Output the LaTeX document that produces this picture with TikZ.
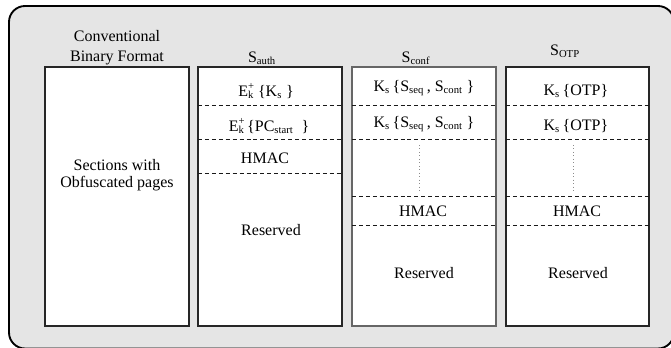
\documentclass[tikz,border=0pt]{standalone}
\usepackage{fontspec}
\setmainfont{Liberation Serif}
\usepackage{xcolor}
\usetikzlibrary{positioning, calc}

\tikzset{
  sect/.style={draw=black!85, line width=0.8pt, fill=white},
  sep/.style={black!90, line width=0.6pt, dash pattern=on 3pt off 2.2pt},
  gap/.style={black!45, line width=0.6pt, dotted},
  lbl/.style={anchor=base, inner sep=0pt},
}
\newcommand{\Ek}{E\rlap{\raisebox{0.15ex}{\textsuperscript{+}}}\textsubscript{k}}
\newcommand{\Ks}{K\textsubscript{s}}

\begin{document}
\begin{tikzpicture}[x=0.75pt, y=-0.75pt, font=\fontsize{12}{15}\selectfont]
            \newcommand{\Top}{67}
            \newcommand{\Bot}{326}

            \useasboundingbox (0,0) rectangle (671,347);
            \clip (0,0) rectangle (671,347);
            \draw[fill=black!10, line width=1.4pt, rounded corners=12pt] (9,6) rectangle (674,348.5);% Outer frame

            \coordinate (A) at (45,\Top);
            \coordinate (A') at (189,\Bot);
            \coordinate (B) at (198,\Top);
            \coordinate (B') at (342,\Bot);
            \coordinate (C) at (352,\Top);
            \coordinate (C') at (496,\Bot);
            \coordinate (D) at (506,\Top);
            \coordinate (D') at (649,\Bot);

            \draw[sect] (A) rectangle (A');
            \draw[sect] (B) rectangle (B');
            \draw[sect, draw=black!60, line width=1.1pt] (C) rectangle (C');
            \draw[sect] (D) rectangle (D');

            \foreach \y in {105,139,173} \draw[sep] (198,\y) -- (342,\y);
            \foreach \y in {105,139,196,225} {
                \draw[sep] (352,\y) -- (496,\y);
                \draw[sep] (506,\y) -- (649,\y);
            }
            \draw[gap] (419.5,145) -- (419.5,192);
            \draw[gap] (573,145) -- (573,192);

            \node[align=center] (h1) at (117,48) {Conventional\\Binary Format};
            \node[lbl] (h2) at (262,62) {S\textsubscript{auth}};
            \node[lbl] (h3) at (416,62) {S\textsubscript{conf}};
            \node[lbl] (h4) at (565,55) {S\textsubscript{OTP}};

            \node[align=center, font=\fontsize{12}{13}\selectfont] (1) at (117,175) {Sections with\\Obfuscated pages};

            \node[lbl] (2) at (266,96) {\Ek\ \{\Ks\ \}};
            \node[lbl] (3) at (269,131) {\Ek\,\{PC\textsubscript{start}\ \ \}};
            \node[lbl] (4) at (265,163) {HMAC};
            \node[lbl] (5) at (271,235) {Reserved};

            \node[lbl] (6) at (424,91) {\Ks\,\{S\textsubscript{seq}\,, S\textsubscript{cont}\ \}};
            \node[lbl] (7) at (424,127) {\Ks\,\{S\textsubscript{seq}\,, S\textsubscript{cont}\ \}};
            \node[lbl] (8) at (423,216) {HMAC};
            \node[lbl] (9) at (424,278) {Reserved};

            \node[lbl] (10) at (576,95) {\Ks\,\{OTP\}};
            \node[lbl] (11) at (576,130) {\Ks\,\{OTP\}};
            \node[lbl] (12) at (577,216) {HMAC};
            \node[lbl] (13) at (578,278) {Reserved};
        \end{tikzpicture}
\end{document}
